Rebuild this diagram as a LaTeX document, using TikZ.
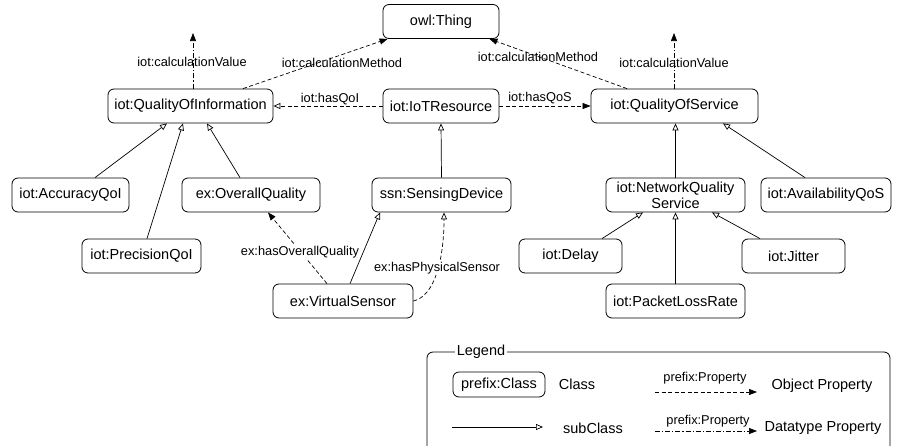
\documentclass[tikz,border=0pt]{standalone}
\usepackage{fontspec}
\setmainfont{Liberation Sans}
\usetikzlibrary{arrows.meta}

\begin{document}
\begin{tikzpicture}[x=1pt,y=-1pt,
  cls/.style={draw, rounded corners=6pt, fill=white, minimum height=34pt, inner sep=2pt,
              font=\fontsize{14.5}{16}\selectfont, line width=0.8pt},
  lbl/.style={font=\fontsize{12.8}{14}\selectfont, inner sep=1pt},
  txt/.style={font=\fontsize{14.5}{16}\selectfont, inner sep=1pt},
  subcls/.style={line width=0.7pt, -{Triangle[open,length=7pt,width=6pt]}},
  objprop/.style={line width=0.7pt, dash pattern=on 4pt off 2.5pt, -{Triangle[length=8pt,width=6pt]}},
  objpropopen/.style={line width=0.7pt, dash pattern=on 4pt off 2.5pt, -{Triangle[open,length=7pt,width=6pt]}},
  dataprop/.style={line width=0.7pt, dash pattern=on 5pt off 2pt on 1.2pt off 2pt, -{Triangle[length=8pt,width=6pt]}}
]
\useasboundingbox (0,0) rectangle (903,445);
\clip (0,0) rectangle (903,445);

% classes
\node[cls, minimum width=116pt] (thing) at (441,21.5) {owl:Thing};
\node[cls, minimum width=165pt] (qoi)   at (190.5,106) {iot:QualityOfInformation};
\node[cls, minimum width=116pt] (iotr)  at (441,106) {iot:IoTResource};
\node[cls, minimum width=167pt] (qos)   at (674.5,106) {iot:QualityOfService};
\node[cls, minimum width=117pt] (acc)   at (70.5,195) {iot:AccuracyQoI};
\node[cls, minimum width=138pt] (ovq)   at (251,195) {ex:OverallQuality};
\node[cls, minimum width=139pt] (sens)  at (441.5,195) {ssn:SensingDevice};
\node[cls, minimum width=119pt] (prec)  at (141.5,256) {iot:PrecisionQoI};
\node[cls, minimum width=140pt] (vs)    at (343,301) {ex:VirtualSensor};
\node[cls, minimum width=139pt, align=center] (nqs) at (675.5,195) {iot:NetworkQuality\\Service};
\node[cls, minimum width=130pt] (avail) at (826,195) {iot:AvailabilityQoS};
\node[cls, minimum width=103pt] (delay) at (570.5,256) {iot:Delay};
\node[cls, minimum width=103pt] (jitter) at (793.5,256) {iot:Jitter};
\node[cls, minimum width=139pt] (plr)   at (675.5,301) {iot:PacketLossRate};

% datatype properties
\coordinate (qoiCV) at (193,33);
\coordinate (qosCV) at (674,33);
\draw[dataprop] ([xshift=2.5pt]qoi.north) -- (qoiCV);
\node[lbl] (qoiCVl) at (192,62) {iot:calculationValue};
\draw[dataprop] ([xshift=-0.5pt]qos.north) -- (qosCV);
\node[lbl] (qosCVl) at (674,63) {iot:calculationValue};

% object properties
\draw[objprop] ([xshift=52.5pt]qoi.north) -- ([xshift=5pt]thing.south west);
\node[lbl] (qoiCM) at (342,63) {iot:calculationMethod};
\draw[objprop] ([xshift=-47.5pt]qos.north) -- ([xshift=-10pt]thing.south east);
\node[lbl] (qosCM) at (538,57) {iot:calculationMethod};
\draw[objpropopen] (iotr.west) -- (qoi.east);
\node[lbl] (hasqoi) at (330,99) {iot:hasQoI};
\draw[objprop] (iotr.east) -- (qos.west);
\node[lbl] (hasqos) at (540,98) {iot:hasQoS};

% subclass relations
\draw[subcls] ([xshift=24.5pt]acc.north) -- ([xshift=-23.5pt]qoi.south);
\draw[subcls] ([xshift=5.5pt]prec.north) -- ([xshift=-7.5pt]qoi.south);
\draw[subcls] ([xshift=-11pt]ovq.north) -- ([xshift=16.5pt]qoi.south);
\draw[subcls] (sens.north) -- (iotr.south);
\draw[subcls] ([xshift=7pt]vs.north) -- ([xshift=-61.5pt]sens.south);
\draw[subcls] (nqs.north) -- (nqs.north |- qos.south);
\draw[subcls] ([xshift=-21pt]avail.north) -- ([xshift=48.5pt]qos.south);
\draw[subcls] ([xshift=31.5pt]delay.north) -- ([xshift=-32.5pt]nqs.south);
\draw[subcls] (plr.north) -- (nqs.south);
\draw[subcls] ([xshift=-33.5pt]jitter.north) -- ([xshift=36.5pt]nqs.south);

% virtual sensor properties
\draw[objprop] ([xshift=-16pt]vs.north) -- ([xshift=17pt]ovq.south);
\node[lbl, fill=white] (hasovq) at (300,252) {ex:hasOverallQuality};
\draw[objpropopen] (vs.east) .. controls +(22,-5) and +(0,45) .. ([xshift=2.5pt]sens.south);
\node[lbl, fill=white] (hasps) at (437,268) {ex:hasPhysicalSensor};

% legend
\draw[line width=0.8pt, rounded corners=6pt] (427,352) rectangle (890,470);
\node[txt, fill=white, inner sep=2pt] (legtitle) at (481,352) {Legend};
\node[cls, minimum width=92pt, minimum height=25pt] (legcls) at (499,384.5) {prefix:Class};
\node[txt] (legclst) at (577,384) {Class};
\coordinate (op1) at (655,392);
\coordinate (op2) at (757,392);
\draw[objprop] (op1) -- (op2);
\node[lbl] (oplbl) at (705,378) {prefix:Property};
\node[txt] (opt) at (822,386) {Object Property};
\coordinate (sc1) at (452,427);
\coordinate (sc2) at (543,427);
\draw[subcls] (sc1) -- (sc2);
\node[txt] (sct) at (593,428) {subClass};
\coordinate (dp1) at (655,431);
\coordinate (dp2) at (757,431);
\draw[dataprop] (dp1) -- (dp2);
\node[lbl] (dplbl) at (708,421) {prefix:Property};
\node[txt] (dpt) at (823,428) {Datatype Property};
\end{tikzpicture}
\end{document}
